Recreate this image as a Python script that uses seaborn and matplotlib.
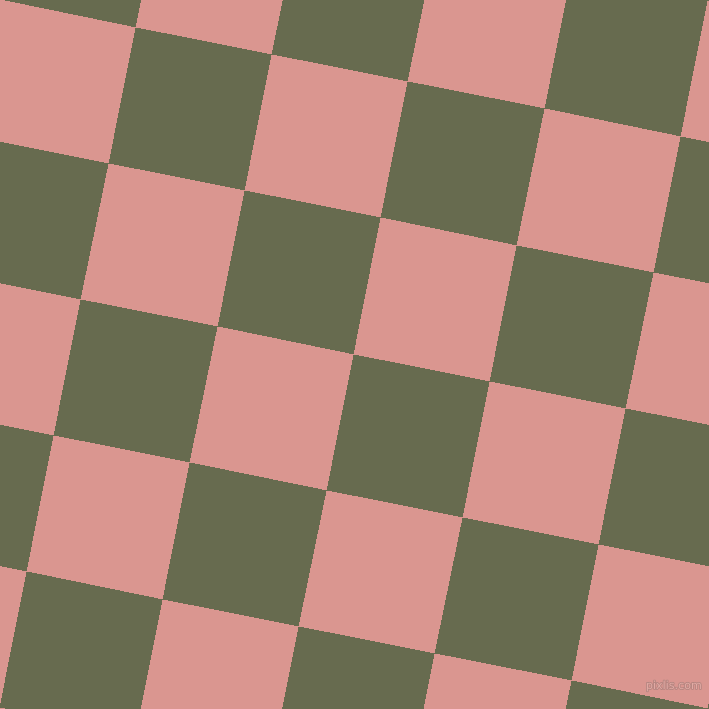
import matplotlib
matplotlib.use("Agg")
import matplotlib.pyplot as plt
import matplotlib.patheffects as pe
from matplotlib.colors import ListedColormap
from matplotlib.transforms import Affine2D
import seaborn as sns
import numpy as np

# checker cells, rows j=-2..5, columns i=-2..5 (0 = olive, 1 = pink)
cells = [
    [0, 1, 0, 1, 0, 1, 0, 1],
    [1, 0, 1, 0, 1, 0, 1, 0],
    [0, 1, 0, 1, 0, 1, 0, 1],
    [1, 0, 1, 0, 1, 0, 1, 0],
    [0, 1, 0, 1, 0, 1, 0, 1],
    [1, 0, 1, 0, 1, 0, 1, 0],
    [0, 1, 0, 1, 0, 1, 0, 1],
    [1, 0, 1, 0, 1, 0, 1, 0],
]
colors = ["#676b4f", "#da9690"]
watermark = "pixlis.com"

# grid geometry in pixels (corner of cell i=0, j=0 and the two edge vectors)
origin = (136.0, 27.7)
u = (136.2, 27.25)
v = (-27.3, 136.15)
offset = 2

fig = plt.figure(figsize=(7.09, 7.09), dpi=100)
ax = fig.add_axes([0, 0, 1, 1])
sns.heatmap(np.array(cells), cmap=ListedColormap(colors), vmin=0, vmax=1,
            cbar=False, ax=ax, xticklabels=False, yticklabels=False)

mesh = ax.collections[0]
tr = Affine2D(np.array([
    [u[0], v[0], origin[0] - offset * u[0] - offset * v[0]],
    [u[1], v[1], origin[1] - offset * u[1] - offset * v[1]],
    [0, 0, 1],
]))
mesh.set_transform(tr + ax.transData)
mesh.set_antialiased(True)

ax.set_xlim(0, 709)
ax.set_ylim(709, 0)
ax.axis("off")

ax.text(702, 686, watermark, ha="right", va="center", fontsize=8,
        color="#e2aaa4",
        path_effects=[pe.withStroke(linewidth=1.2, foreground="#b58580")])

fig.savefig("out.png", dpi=100)
